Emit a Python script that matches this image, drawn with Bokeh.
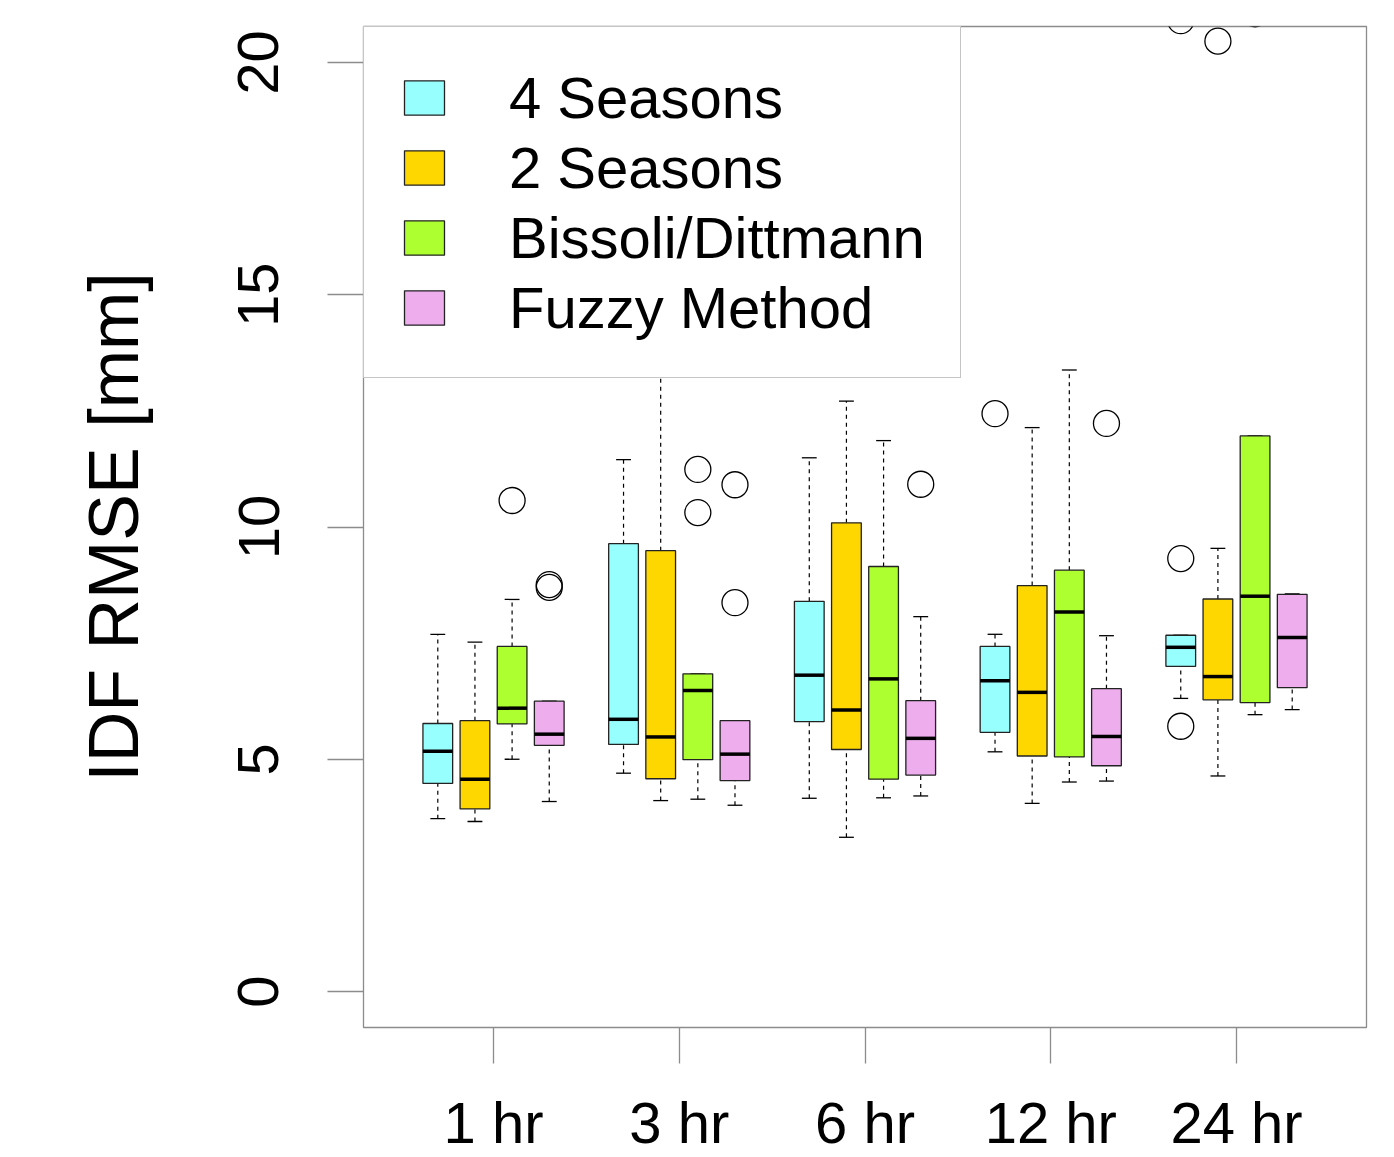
from bokeh.plotting import figure
from bokeh.models import ColumnDataSource, FixedTicker, Range1d, Legend, LegendItem
from bokeh.embed import file_html
from bokeh.resources import INLINE

durations = ["1 hr", "3 hr", "6 hr", "12 hr", "24 hr"]
methods = ["4 Seasons", "2 Seasons", "Bissoli/Dittmann", "Fuzzy Method"]
colors = ["#98FFFF", "#FFD700", "#ADFF2F", "#EEAEEE"]
y_ticks = [0, 5, 10, 15, 20]

# per method: lower whisker, Q1, median, Q3, upper whisker (one value per duration)
s4_lo = [3.72, 4.70, 4.16, 5.16, 6.31]
s4_q1 = [4.48, 5.32, 5.81, 5.58, 7.00]
s4_med = [5.17, 5.86, 6.81, 6.69, 7.41]
s4_q3 = [5.77, 9.64, 8.40, 7.43, 7.67]
s4_hi = [7.69, 11.45, 11.49, 7.69, 7.67]
s4_out = [[], [], [], [12.44], [9.32, 5.71, 20.90]]

s2_lo = [3.66, 4.11, 3.32, 4.05, 4.64]
s2_q1 = [3.93, 4.58, 5.21, 5.07, 6.28]
s2_med = [4.57, 5.48, 6.06, 6.44, 6.78]
s2_q3 = [5.83, 9.49, 10.09, 8.74, 8.45]
s2_hi = [7.52, 14.2, 12.71, 12.14, 9.54]
s2_out = [[], [], [], [], [20.46]]

bd_lo = [5.00, 4.14, 4.17, 4.51, 5.96]
bd_q1 = [5.76, 4.99, 4.57, 5.05, 6.22]
bd_med = [6.10, 6.48, 6.73, 8.17, 8.51]
bd_q3 = [7.43, 6.84, 9.15, 9.07, 11.96]
bd_hi = [8.44, 6.84, 11.86, 13.38, 11.96]
bd_out = [[10.57], [11.24, 10.31], [], [], [21.05]]

fz_lo = [4.09, 4.01, 4.21, 4.53, 6.07]
fz_q1 = [5.30, 4.54, 4.66, 4.86, 6.54]
fz_med = [5.54, 5.11, 5.45, 5.49, 7.62]
fz_q3 = [6.25, 5.83, 6.26, 6.52, 8.55]
fz_hi = [6.25, 5.83, 8.07, 7.66, 8.56]
fz_out = [[8.76, 8.70], [10.91, 8.37], [10.92], [12.23], []]

stats = [
    (s4_lo, s4_q1, s4_med, s4_q3, s4_hi, s4_out),
    (s2_lo, s2_q1, s2_med, s2_q3, s2_hi, s2_out),
    (bd_lo, bd_q1, bd_med, bd_q3, bd_hi, bd_out),
    (fz_lo, fz_q1, fz_med, fz_q3, fz_hi, fz_out),
]

FONT = "Liberation Sans"
offsets = [-0.3, -0.1, 0.1, 0.3]
box_w = 0.16
cap_w = 0.08

p = figure(width=1378, height=1157, output_backend="svg", toolbar_location=None,
           x_range=Range1d(0.3, 5.7), y_range=Range1d(-0.775, 20.775),
           min_border_left=363, min_border_right=12, min_border_top=26, min_border_bottom=130)
p.grid.visible = False
p.outline_line_color = "#8c8c8c"
p.outline_line_width = 1.3
p.background_fill_color = "white"

legend_items = []
for m, (lo, q1, med, q3, hi, outs) in enumerate(stats):
    xs = [i + 1 + offsets[m] for i in range(len(durations))]
    src = ColumnDataSource(dict(x=xs, lo=lo, q1=q1, med=med, q3=q3, hi=hi,
                                xl=[x - box_w / 2 for x in xs], xr=[x + box_w / 2 for x in xs],
                                cl=[x - cap_w / 2 for x in xs], cr=[x + cap_w / 2 for x in xs]))
    # whiskers
    p.segment(x0="x", x1="x", y0="q3", y1="hi", source=src, line_color="black",
              line_width=1.2, line_dash="4 4")
    p.segment(x0="x", x1="x", y0="lo", y1="q1", source=src, line_color="black",
              line_width=1.2, line_dash="4 4")
    p.segment(x0="cl", x1="cr", y0="hi", y1="hi", source=src, line_color="black", line_width=1.3)
    p.segment(x0="cl", x1="cr", y0="lo", y1="lo", source=src, line_color="black", line_width=1.3)
    r = p.vbar(x="x", width=box_w, bottom="q1", top="q3", source=src,
               fill_color=colors[m], line_color="#222222", line_width=1.3)
    p.segment(x0="xl", x1="xr", y0="med", y1="med", source=src, line_color="black", line_width=3.5)
    ox, oy = [], []
    for i, vals in enumerate(outs):
        for v in vals:
            ox.append(xs[i])
            oy.append(v)
    if ox:
        p.scatter(x=ox, y=oy, marker="circle", size=26, fill_color=None,
                  line_color="black", line_width=1.3)
    legend_items.append(LegendItem(label=methods[m], renderers=[r]))

legend = Legend(items=legend_items, location="top_left")
legend.margin = 0
legend.padding = 35
legend.spacing = 0
legend.glyph_width = 50
legend.glyph_height = 43
legend.label_height = 70
legend.label_standoff = 60
legend.label_text_font = FONT
legend.label_text_font_size = "58px"
legend.label_text_color = "black"
legend.label_text_baseline = "middle"
legend.border_line_color = "#8c8c8c"
legend.border_line_width = 1.3
legend.background_fill_color = "white"
legend.background_fill_alpha = 1.0
p.add_layout(legend, "center")

# axes
p.xaxis.ticker = FixedTicker(ticks=[1, 2, 3, 4, 5])
p.xaxis.major_label_overrides = {i + 1: d for i, d in enumerate(durations)}
p.yaxis.ticker = FixedTicker(ticks=y_ticks)
for ax in (p.xaxis, p.yaxis):
    ax.axis_line_color = None
    ax.major_tick_in = 0
    ax.major_tick_out = 36
    ax.major_tick_line_color = "#8c8c8c"
    ax.major_tick_line_width = 1.3
    ax.minor_tick_line_color = None
    ax.major_label_text_font = FONT
    ax.major_label_text_font_size = "58px"
    ax.major_label_text_color = "black"
p.xaxis.major_label_standoff = 26
p.yaxis.major_label_orientation = "vertical"
p.yaxis.major_label_standoff = 49
p.yaxis.axis_label = "IDF RMSE [mm]"
p.yaxis.axis_label_text_font = FONT
p.yaxis.axis_label_text_font_size = "70px"
p.yaxis.axis_label_text_font_style = "normal"
p.yaxis.axis_label_text_color = "black"
p.yaxis.axis_label_standoff = 83

open("out.html", "w").write(file_html(p, INLINE))
